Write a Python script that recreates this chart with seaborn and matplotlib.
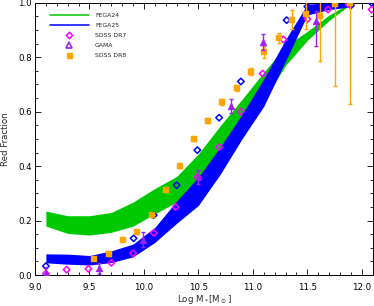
import matplotlib
matplotlib.use("Agg")
import matplotlib.pyplot as plt
from matplotlib.lines import Line2D
from matplotlib.ticker import MultipleLocator
import numpy as np
import pandas as pd
import seaborn as sns

# ---------------- data ----------------
band_x = [9.1, 9.3, 9.5, 9.7, 9.9, 10.1, 10.3, 10.5, 10.7, 10.9, 11.1, 11.3, 11.5, 11.7, 11.9]
fega24_lo = [0.18, 0.153, 0.147, 0.157, 0.18, 0.225, 0.268, 0.345, 0.44, 0.54, 0.64, 0.77, 0.862, 0.935, 0.995]
fega24_hi = [0.235, 0.218, 0.218, 0.23, 0.268, 0.318, 0.362, 0.445, 0.548, 0.645, 0.745, 0.84, 0.895, 0.955, 1.0]
fega25_lo = [0.045, 0.04, 0.037, 0.046, 0.067, 0.12, 0.19, 0.256, 0.37, 0.50, 0.62, 0.786, 0.955, 0.975, 0.985]
fega25_hi = [0.078, 0.077, 0.072, 0.089, 0.114, 0.175, 0.272, 0.36, 0.47, 0.59, 0.72, 0.865, 0.995, 1.0, 1.0]

dr7_x = [9.10, 9.29, 9.49, 9.70, 9.90, 10.09, 10.29, 10.49, 10.69, 10.89, 11.09, 11.28, 11.50, 11.69, 11.88, 12.09]
dr7_y = [0.005, 0.02, 0.023, 0.045, 0.08, 0.155, 0.25, 0.36, 0.47, 0.60, 0.74, 0.865, 0.94, 0.975, 0.995, 0.975]

other_x = [9.10, 9.905, 10.09, 10.30, 10.49, 10.69, 10.89, 11.31, 11.50, 11.70, 11.90, 12.09]
other_y = [0.033, 0.135, 0.22, 0.33, 0.459, 0.578, 0.711, 0.936, 0.986, 1.0, 0.99, 1.0]

gama_x = [9.10, 9.59, 9.99, 10.50, 10.80, 11.09, 11.58]
gama_y = [0.008, 0.025, 0.13, 0.36, 0.62, 0.855, 0.933]
gama_elo = [0.02, 0.02, 0.028, 0.025, 0.025, 0.03, 0.09]
gama_ehi = [0.02, 0.02, 0.028, 0.025, 0.025, 0.03, 0.037]

dr8_x = [9.546, 9.68, 9.807, 9.94, 10.07, 10.20, 10.33, 10.46, 10.59, 10.72, 10.85, 10.98,
         11.10, 11.24, 11.36, 11.49, 11.62, 11.75, 11.89]
dr8_y = [0.06, 0.076, 0.13, 0.157, 0.22, 0.314, 0.40, 0.50, 0.567, 0.636, 0.686, 0.747,
         0.82, 0.87, 0.937, 0.96, 0.95, 0.995, 1.0]
dr8_err = [0.005, 0.005, 0.005, 0.005, 0.005, 0.005, 0.006, 0.008, 0.01, 0.012, 0.01, 0.012,
           0.022, 0.018, 0.035, 0.055, 0.163, 0.30, 0.37]

x_ticks = [9.0, 9.5, 10.0, 10.5, 11.0, 11.5, 12.0]
x_ticklabels = ["9.0", "9.5", "10.0", "10.5", "11.0", "11.5", "12.0"]
y_ticks = [0.0, 0.2, 0.4, 0.6, 0.8, 1.0]
y_ticklabels = ["0.0", "0.2", "0.4", "0.6", "0.8", "1.0"]
legend_labels = ["FEGA24", "FEGA25", "SDSS DR7", "GAMA", "SDSS DR8"]

# ---------------- style ----------------
sns.set_style("ticks")
plt.rcParams["font.family"] = ["DejaVu Sans"]

GREEN = "#00C800"
BLUE = "#0000FF"
MAGENTA = "#FF00FF"
PURPLE = "#A020F0"
ORANGE = "#FFA500"

fig = plt.figure(figsize=(3.74, 3.06), dpi=100)
ax = fig.add_axes([0.0936, 0.101, 0.9029, 0.890])

# bands
ax.fill_between(band_x, fega24_lo, fega24_hi, color=GREEN, lw=0, zorder=1)
ax.fill_between(band_x, fega25_lo, fega25_hi, color=BLUE, lw=0, zorder=2)

# points
df_other = pd.DataFrame({"x": other_x, "y": other_y})
df_dr7 = pd.DataFrame({"x": dr7_x, "y": dr7_y})
df_dr8 = pd.DataFrame({"x": dr8_x, "y": dr8_y})
df_gama = pd.DataFrame({"x": gama_x, "y": gama_y})

sns.scatterplot(data=df_other, x="x", y="y", ax=ax, marker="D", s=11,
                facecolor="none", edgecolor=BLUE, linewidth=1.1, zorder=3)
sns.scatterplot(data=df_dr7, x="x", y="y", ax=ax, marker="D", s=11,
                facecolor="none", edgecolor=MAGENTA, linewidth=1.1, zorder=4)

ax.errorbar(dr8_x, dr8_y, yerr=dr8_err, fmt="none", ecolor=ORANGE, elinewidth=1.0,
            capsize=1.6, capthick=1.0, zorder=5)
sns.scatterplot(data=df_dr8, x="x", y="y", ax=ax, marker="s", s=16,
                color=ORANGE, edgecolor=ORANGE, linewidth=0.3, zorder=6)

ax.errorbar(gama_x, gama_y, yerr=[gama_elo, gama_ehi], fmt="none", ecolor=PURPLE,
            elinewidth=1.0, capsize=1.6, capthick=1.0, zorder=7)
sns.scatterplot(data=df_gama, x="x", y="y", ax=ax, marker="^", s=22,
                color=PURPLE, edgecolor=PURPLE, linewidth=0.6, zorder=8)

# axes
ax.set_xlim(9.0, 12.1)
ax.set_ylim(0.0, 1.0)
ax.set_xticks(x_ticks)
ax.set_xticklabels(x_ticklabels)
ax.set_yticks(y_ticks)
ax.set_yticklabels(y_ticklabels)
ax.xaxis.set_minor_locator(MultipleLocator(0.1))
ax.yaxis.set_minor_locator(MultipleLocator(0.05))
ax.tick_params(which="both", direction="in", top=True, right=True, width=0.6,
               colors="black", labelsize=6.2)
ax.tick_params(which="major", length=4)
ax.tick_params(which="minor", length=2.3)
ax.tick_params(axis="x", which="major", pad=5.5)
ax.tick_params(axis="y", which="major", pad=2.2)
for sp in ax.spines.values():
    sp.set_linewidth(0.7)
    sp.set_color("black")

ax.set_xlabel("Log M$_*$[M$_\\odot$]", fontsize=6.2, labelpad=1.2)
ax.set_ylabel("Red Fraction", fontsize=6.2, labelpad=6)

# legend
handles = [
    Line2D([], [], color=GREEN, lw=1.1),
    Line2D([], [], color=BLUE, lw=1.1),
    Line2D([], [], ls="none", marker="D", ms=3.2, mfc="none", mec=MAGENTA, mew=1.1),
    Line2D([], [], ls="none", marker="^", ms=3.8, mfc="none", mec=PURPLE, mew=1.2),
    Line2D([], [], ls="none", marker="s", ms=3.6, mfc=ORANGE, mec=ORANGE),
]
ax.legend(handles, legend_labels, loc="upper left", bbox_to_anchor=(0.044, 0.962),
          frameon=False, fontsize=4.4, handlelength=6.4, handletextpad=1.0,
          labelspacing=0.75, borderpad=0, borderaxespad=0, numpoints=1)

fig.savefig("out.png", dpi=100)
